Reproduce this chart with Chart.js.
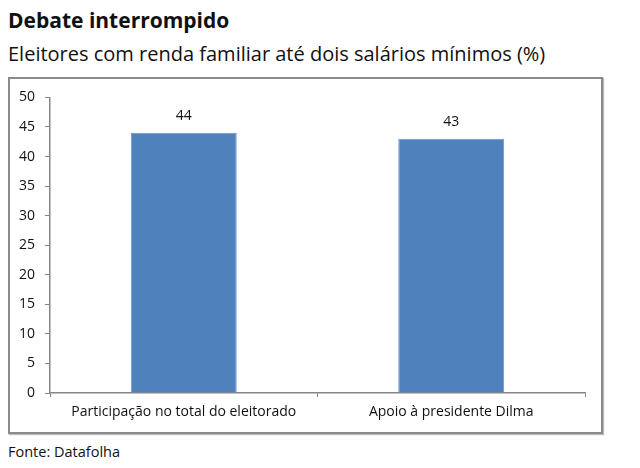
<!DOCTYPE html>
<html>
<head>
<meta charset="utf-8">
<script src="https://cdn.jsdelivr.net/npm/chart.js@4"></script>
<style>
  html, body { margin: 0; padding: 0; background: #fff; }
  body { width: 640px; height: 468px; position: relative; overflow: hidden; font-family: 'Open Sans', sans-serif; color: #111; }
  #title { position: absolute; left: 8px; top: 6px; font-size: 21px; font-weight: 700; white-space: nowrap; line-height: 1.362; }
  #subtitle { position: absolute; left: 8px; top: 40px; font-size: 20px; white-space: nowrap; line-height: 1.362; }
  #box { position: absolute; left: 8px; top: 77px; width: 591px; height: 353px; border: 2px solid #8a8a8a; box-shadow: 1px 1px 1px #bbb; }
  #box canvas { position: absolute; left: 0; top: 0; }
  #source { position: absolute; left: 8px; top: 442px; font-size: 14.5px; white-space: nowrap; line-height: 1.362; }
</style>
</head>
<body>
<div id="title">Debate interrompido</div>
<div id="subtitle">Eleitores com renda familiar até dois salários mínimos (%)</div>
<div id="box"><canvas id="chart" width="591" height="353"></canvas></div>
<div id="source">Fonte: Datafolha</div>
<script>
'use strict';

// Dados
const CATEGORIES = ['Participação no total do eleitorado', 'Apoio à presidente Dilma'];
const VALUES = [44, 43];
const Y_MIN = 0;
const Y_MAX = 50;
const Y_STEP = 5;

const AXIS_GRAY = '#868686';
const BAR_BLUE = '#4f81bd';
const FONT = "'Open Sans', sans-serif";

// rótulo de valor acima de cada barra
const valueLabels = {
  id: 'valueLabels',
  afterDatasetsDraw(chart) {
    const { ctx } = chart;
    const meta = chart.getDatasetMeta(0);
    ctx.save();
    ctx.font = `14px ${FONT}`;
    ctx.fillStyle = '#111';
    ctx.textAlign = 'center';
    ctx.textBaseline = 'middle';
    meta.data.forEach((bar, i) => {
      ctx.fillText(String(VALUES[i]), bar.x, bar.y - 17);
    });
    ctx.restore();
  },
};

Chart.defaults.font.family = FONT;
Chart.defaults.color = '#111';

new Chart(document.getElementById('chart'), {
  type: 'bar',
  data: {
    labels: CATEGORIES,
    datasets: [{
      data: VALUES,
      backgroundColor: BAR_BLUE,
      borderColor: '#6a95cc',
      borderWidth: 1,
      categoryPercentage: 0.8,
      barPercentage: 0.495,
    }],
  },
  options: {
    responsive: false,
    animation: false,
    layout: { padding: { top: 16, right: 16, left: 0, bottom: 0 } },
    plugins: { legend: { display: false }, tooltip: { enabled: false } },
    scales: {
      x: {
        offset: true,
        grid: { offset: true, drawOnChartArea: false, drawTicks: true, tickLength: 4, color: AXIS_GRAY },
        border: { display: true, color: AXIS_GRAY, width: 1.5 },
        ticks: { padding: 7, font: { size: 14 }, color: '#111', maxRotation: 0 },
        afterFit: s => { s.height = 39; },
      },
      y: {
        min: Y_MIN,
        max: Y_MAX,
        grid: { drawOnChartArea: false, drawTicks: true, tickLength: 5, color: AXIS_GRAY },
        border: { display: true, color: AXIS_GRAY, width: 1.5 },
        ticks: { stepSize: Y_STEP, padding: 10, font: { size: 14 }, color: '#111' },
        afterFit: s => { s.width = 40; },
      },
    },
  },
  plugins: [valueLabels],
});
</script>
</body>
</html>
